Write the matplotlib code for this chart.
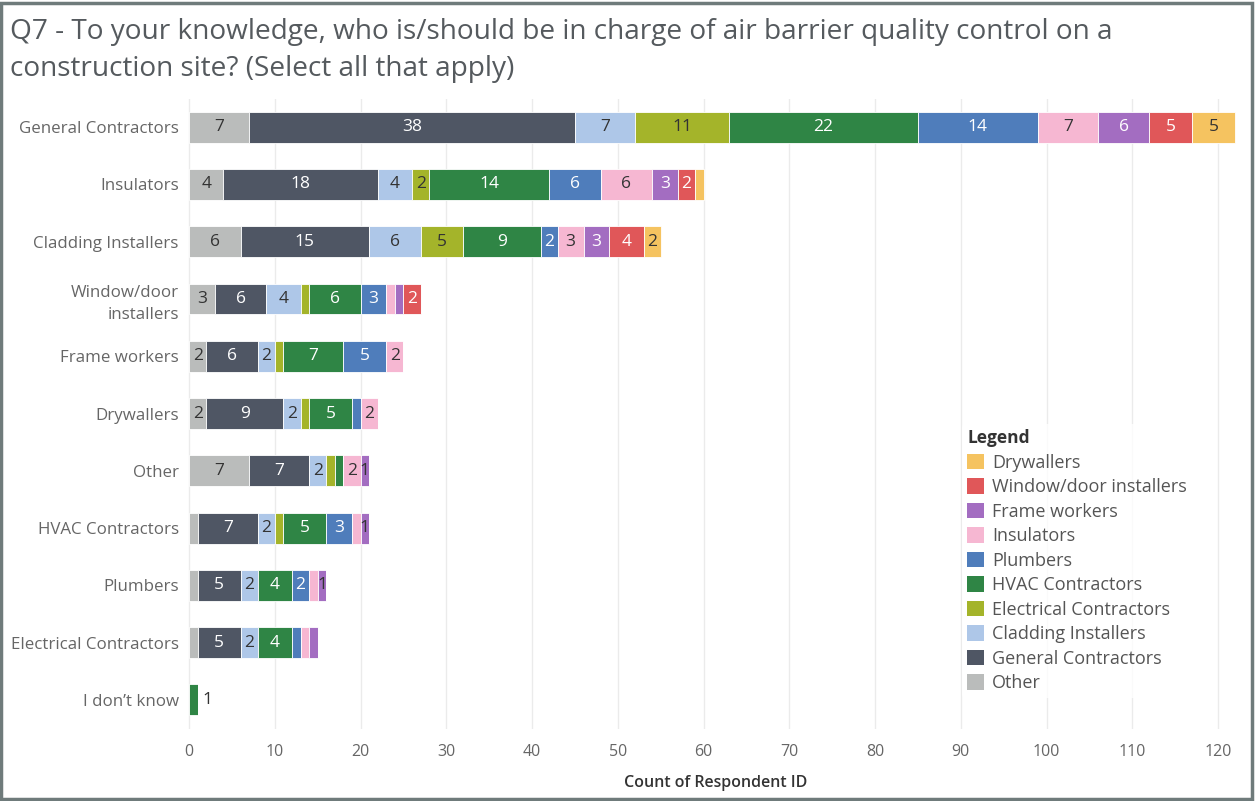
import numpy as np
import matplotlib.pyplot as plt
from matplotlib.patches import Patch, Rectangle

plt.rcParams['font.family'] = ['Open Sans', 'DejaVu Sans']

# rows of the chart, top to bottom
rows = ["General Contractors", "Insulators", "Cladding Installers",
        "Window/door\ninstallers", "Frame workers", "Drywallers", "Other",
        "HVAC Contractors", "Plumbers", "Electrical Contractors", "I don\u2019t know"]

# stacked series, left to right
series = ["Other", "General Contractors", "Cladding Installers", "Electrical Contractors",
          "HVAC Contractors", "Plumbers", "Insulators", "Frame workers",
          "Window/door installers", "Drywallers"]

other      = [7, 4, 6, 3, 2, 2, 7, 1, 1, 1, 0]
general    = [38, 18, 15, 6, 6, 9, 7, 7, 5, 5, 0]
cladding   = [7, 4, 6, 4, 2, 2, 2, 2, 2, 2, 0]
electrical = [11, 2, 5, 1, 1, 1, 1, 1, 0, 0, 0]
hvac       = [22, 14, 9, 6, 7, 5, 1, 5, 4, 4, 1]
plumbers   = [14, 6, 2, 3, 5, 1, 0, 3, 2, 1, 0]
insulators = [7, 6, 3, 1, 2, 2, 2, 1, 1, 1, 0]
frame      = [6, 3, 3, 1, 0, 0, 1, 1, 1, 1, 0]
window     = [5, 2, 4, 2, 0, 0, 0, 0, 0, 0, 0]
drywall    = [5, 1, 2, 0, 0, 0, 0, 0, 0, 0, 0]

values = [other, general, cladding, electrical, hvac, plumbers,
          insulators, frame, window, drywall]

colors = ["#BABCBB", "#4F5664", "#AEC7E8", "#A4B42A", "#2F8545",
          "#4F7DBB", "#F6B7D2", "#A36DC1", "#E05759", "#F5C360"]
light_text = {"General Contractors", "HVAC Contractors", "Plumbers",
              "Frame workers", "Window/door installers"}
# rows whose last 1-count segment still gets a label
ones_labeled = ["Other", "HVAC Contractors", "Plumbers", "I don\u2019t know"]

fig = plt.figure(figsize=(12.55, 8.01), dpi=100)
ax = fig.add_axes([0.149, 0.0904, 0.842, 0.7866])

y = np.arange(len(rows))
left = np.zeros(len(rows))
for name, vals, col in zip(series, values, colors):
    vals = np.array(vals, dtype=float)
    ax.barh(y, vals, left=left, height=0.54, color=col, edgecolor="white",
            linewidth=0.6, zorder=3)
    for i, v in enumerate(vals):
        if v == 0:
            continue
        total = sum(s[i] for s in values)
        is_last = left[i] + v == total
        show = v >= 2 or (v == 1 and is_last and rows[i] in ones_labeled)
        if not show:
            continue
        tc = "white" if (name in light_text and v >= 2) else "#333333"
        if total == 1:
            ax.text(left[i] + v + 0.5, i, f"{int(v)}", ha="left", va="center",
                    fontsize=12.5, color="#333333", zorder=4)
        else:
            ax.text(left[i] + v / 2, i, f"{int(v)}", ha="center", va="center",
                    fontsize=12.5, color=tc, zorder=4)
    left += vals

ax.set_xlim(-0.25, 123)
ax.set_ylim(len(rows) - 0.5, -0.5)
ax.set_xticks(np.arange(0, 121, 10))
ax.set_yticks(y)
ax.set_yticklabels(rows, fontsize=12.2, color="#666666", linespacing=1.5)
ax.tick_params(axis="x", labelsize=11.5, colors="#666666", length=0, pad=11)
ax.tick_params(axis="y", length=0, pad=6)
ax.grid(axis="x", color="#EBEBEB", linewidth=1, zorder=0)
for s in ax.spines.values():
    s.set_visible(False)
ax.set_xlabel("Count of Respondent ID", fontsize=11.5, color="#333333",
              fontweight="semibold", labelpad=11)

handles = [Patch(facecolor=c, edgecolor="none", label=n)
           for n, c in zip(series[::-1], colors[::-1])]
leg = ax.legend(handles=handles, title="Legend", loc="upper left",
                bbox_to_anchor=(0.7245, 0.498), frameon=True, fontsize=13,
                title_fontsize=12.5, handlelength=0.95, handleheight=0.95,
                handletextpad=0.45, labelspacing=0.36, alignment="left",
                borderpad=0.3)
leg.get_frame().set_facecolor("white")
leg.get_frame().set_edgecolor("none")
leg.get_title().set_fontweight("bold")
leg.get_title().set_color("#333333")
for t in leg.get_texts():
    t.set_color("#555555")
leg.set_zorder(5)

fig.text(0.008, 0.977, "Q7 - To your knowledge, who is/should be in charge of air barrier quality control on a\nconstruction site? (Select all that apply)",
         ha="left", va="top", fontsize=20.2, color="#555A5E", linespacing=1.42)

fig.patches.append(Rectangle((0.001, 0.002), 0.997, 0.994, transform=fig.transFigure,
                             fill=False, edgecolor="#6F7B7B", linewidth=2.5))

fig.savefig("out.png", dpi=100)
